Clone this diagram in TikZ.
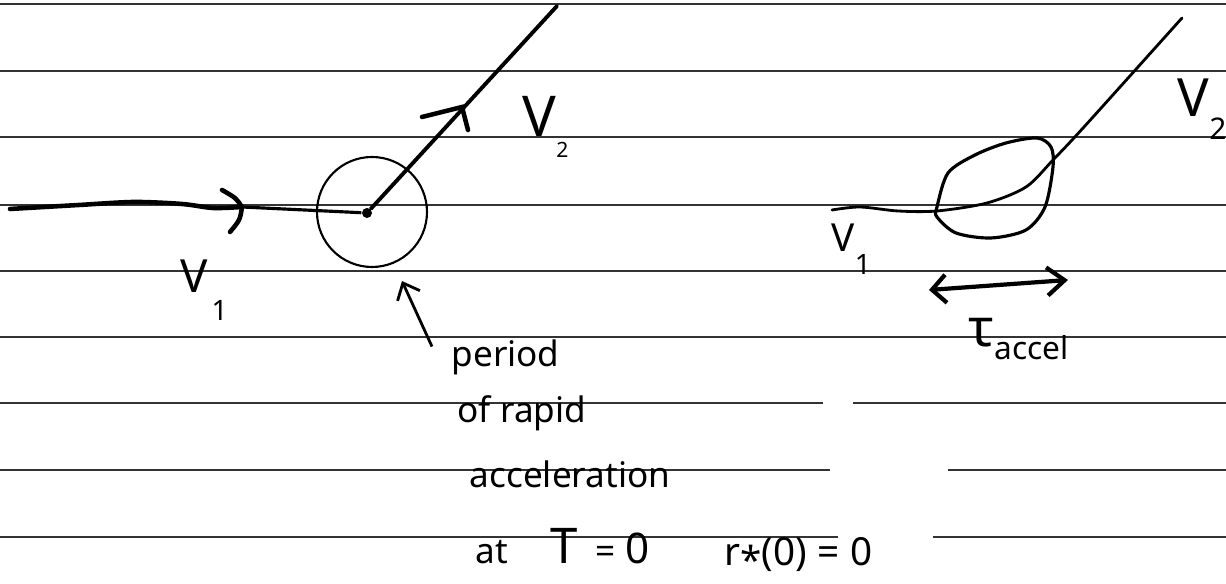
\documentclass[tikz,border=0pt]{standalone}
\usepackage{fontspec}
\setmainfont{Noto Sans}
\usepackage{tikz}
\usetikzlibrary{arrows.meta,positioning}

\newcommand{\fs}[1]{\fontsize{#1}{#1}\selectfont}

\begin{document}
\begin{tikzpicture}[scale=1,
        rule/.style={line width=0.55pt,black!80},
        lbl/.style={anchor=base west,inner sep=0pt},
        barb/.style={-{Straight Barb[length=4pt,width=7pt]}}]
    \useasboundingbox (0,0) rectangle (12.26,5.84);
    % ruled paper
    \foreach \y in {5.80,5.13,4.47,3.79,3.13,2.47}{
        \draw[rule] (0,\y) -- (12.26,\y);
    }
    \draw[rule] (0,1.81) -- (8.23,1.81) (8.53,1.81) -- (12.26,1.81);
    \draw[rule] (0,1.14) -- (8.30,1.14) (9.48,1.14) -- (12.26,1.14);
    \draw[rule] (0,0.47) -- (8.38,0.47) (9.33,0.47) -- (12.26,0.47);

    % sudden turn at one point
    \node[circle,draw,line width=0.6pt,minimum size=1.1cm,inner sep=0pt] (zone) at (3.72,3.72) {};
    \node[circle,fill,inner sep=0pt,minimum size=0.1cm] (kink) at (3.67,3.71) {};
    \draw[line width=1.3pt,line cap=round] plot[smooth] coordinates
        {(0.10,3.75)(0.79,3.79)(1.34,3.82)(1.82,3.80)(2.13,3.76)(2.42,3.77)};
    \draw[line width=0.9pt] (2.42,3.77) -- (kink);
    \draw[line width=1.3pt,line cap=round] (2.22,3.94) .. controls (2.36,3.86) .. (2.42,3.77)
        .. controls (2.40,3.64) .. (2.30,3.52);
    \draw[line width=1.1pt,line cap=round] (kink) -- (5.57,5.78);
    \draw[line width=1.3pt,line cap=round] (4.22,4.67) -- (4.62,4.77) -- (4.68,4.54);
    \node[lbl] (vin) at (1.80,2.91) {\fs{13}V\hspace{1pt}\raisebox{-7.7pt}{\fs{8}1}};
    \node[lbl] (vout) at (5.22,4.47) {\fs{16}V\raisebox{-5.7pt}{\fs{6}2}};

    % smooth turn
    \draw[line width=0.8pt,line cap=round] plot[smooth] coordinates
        {(8.32,3.74)(8.60,3.77)(8.98,3.73)(9.37,3.73)(9.87,3.81)(10.26,3.97)(10.53,4.24)(10.84,4.57)(11.82,5.66)};
    \draw[line width=0.9pt] plot[smooth cycle] coordinates
        {(9.37,3.77)(9.48,4.11)(9.75,4.29)(10.06,4.41)(10.37,4.46)(10.51,4.37)(10.53,4.17)(10.45,3.77)(10.26,3.54)(9.91,3.46)(9.56,3.51)(9.37,3.67)};
    \node[lbl] (vinb) at (8.31,3.32) {\fs{11}V\raisebox{-6.5pt}{\fs{8}1}};
    \node[lbl] (voutb) at (11.77,4.67) {\fs{15}V\raisebox{-6.5pt}{\fs{8.5}2}};
    \coordinate (tl) at (9.29,2.94);
    \coordinate (tr) at (10.68,3.04);
    \draw[line width=1.2pt,{Straight Barb[length=4pt,width=8pt]}-{Straight Barb[length=5pt,width=8pt]}] (tl) -- (tr);
    \node[lbl] (tau) at (9.68,2.37) {\fs{15}τ\raisebox{-3.7pt}{\fs{9}accel}};

    % note
    \node[lbl] (period) at (4.51,2.17) {\fs{10}period};
    \node[lbl] (rapid) at (4.57,1.61) {\fs{10}of rapid};
    \node[lbl] (accel) at (4.69,0.96) {\fs{10}acceleration};
    \node[lbl] (atzero) at (4.75,0.20) {\fs{10}at\hspace{12pt}{\fs{14}T}\hspace{5pt}=\hspace{3pt}{\fs{12}0}};
    \node[lbl] (rstar) at (7.24,0.18) {\fs{11}r\raisebox{-2.5pt}{*}(0)\hspace{3pt}=\hspace{3pt}0};
    \draw[line width=0.8pt,barb] ([shift={(-0.19,-0.07)}]period.north west) -- ([shift={(0.30,-0.13)}]zone.south);
\end{tikzpicture}
\end{document}
